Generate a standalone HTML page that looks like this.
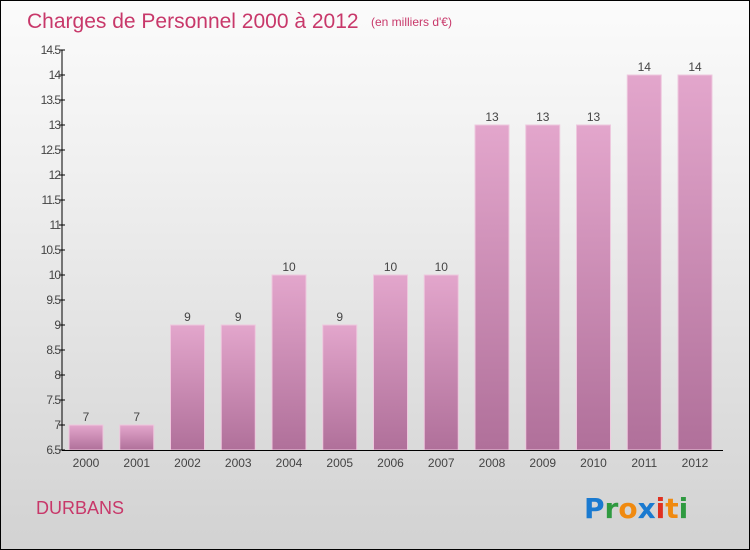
<!DOCTYPE html>
<html><head><meta charset="utf-8"><style>
html,body{margin:0;padding:0}
body{width:750px;height:550px;overflow:hidden;font-family:"Liberation Sans",sans-serif}
#wrap{position:relative;width:748px;height:548px;border:1px solid #000;background:linear-gradient(#fbfbfb,#f0f0f0 30%,#d2d2d2)}
</style></head><body>
<div id="wrap">
<svg id="svg" width="748" height="548" style="position:absolute;left:0;top:0">
<defs><linearGradient id="bg" x1="0" y1="0" x2="0" y2="1"><stop offset="0" stop-color="#e3a6cc"/><stop offset="1" stop-color="#b0709a"/></linearGradient></defs>
<text x="26" y="27" font-size="21" fill="#c8386a">Charges de Personnel 2000 à 2012</text>
<text x="370" y="25" font-size="12" fill="#c8386a">(en milliers d'€)</text>
<text x="35" y="513" font-size="18" fill="#c8386a">DURBANS</text>
<g font-size="28" font-family="'DejaVu Sans',sans-serif" font-weight="bold">
<text x="583" y="517"><tspan fill="#1a7ad0">P</tspan><tspan fill="#2f9a40">r</tspan><tspan fill="#f08a10">o</tspan><tspan fill="#1a7ad0">x</tspan><tspan fill="#e03020">i</tspan><tspan fill="#f08a10">t</tspan><tspan fill="#2f9a40">i</tspan></text>
</g>
<g id="g"></g>
</svg>
</div>
<script>
const categories=["2000","2001","2002","2003","2004","2005","2006","2007","2008","2009","2010","2011","2012"];
const values=[7,7,9,9,10,9,10,10,13,13,13,14,14];
const labels=["7","7","9","9","10","9","10","10","13","13","13","14","14"];
const ticks=[6.5,7,7.5,8,8.5,9,9.5,10,10.5,11,11.5,12,12.5,13,13.5,14,14.5];
const NS="http://www.w3.org/2000/svg";
const g=document.getElementById('g');
const y=v=>449-(v-6.5)*50;
const x=i=>85+i*50.75;
function mk(t,a){const e=document.createElementNS(NS,t);for(const k in a)e.setAttribute(k,a[k]);g.appendChild(e);return e;}
for(let i=0;i<categories.length;i++){
 const r=mk('rect',{x:x(i)-17,y:y(values[i]),width:34,height:y(6.5)-y(values[i]),fill:'url(#bg)',stroke:'#eec8de','stroke-width':1});
 
 
 const t=mk('text',{x:x(i),y:y(values[i])-4,'font-size':12,fill:'#444','text-anchor':'middle'});t.textContent=labels[i];
 
 
 const c=mk('text',{x:x(i),y:466,'font-size':12,fill:'#444','text-anchor':'middle'});c.textContent=categories[i];
 
 
}
const ax=mk('line',{x1:61,y1:y(14.5),x2:61,y2:y(6.5),stroke:'#000'});


const bx=mk('line',{x1:61,y1:y(6.5)+0.5,x2:722,y2:y(6.5)+0.5,stroke:'#000'});


ticks.forEach(v=>{
 mk('line',{x1:58,x2:64,y1:y(v),y2:y(v),stroke:'#000'});
 const t=mk('text',{x:59,y:y(v)+4,'font-size':12,fill:'#444','text-anchor':'end','letter-spacing':'-1'});t.textContent=String(v);
 
 
});
</script>
</body></html>
